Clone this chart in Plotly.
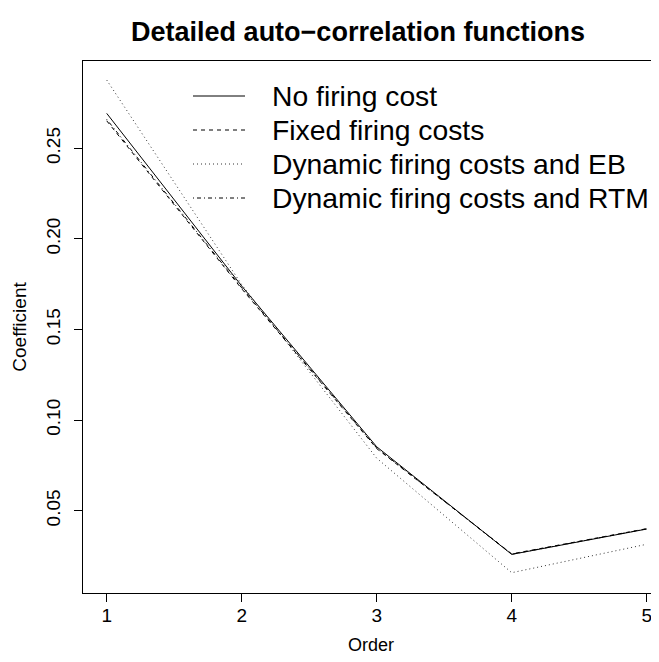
import plotly.graph_objects as go

orders = [1, 2, 3, 4, 5]
no_firing = [0.2693, 0.1740, 0.0853, 0.0259, 0.0399]
fixed_costs = [0.2652, 0.1725, 0.0843, 0.0262, 0.0401]
dyn_eb = [0.2877, 0.1748, 0.0790, 0.0158, 0.0315]
dyn_rtm = [0.2660, 0.1730, 0.0846, 0.0260, 0.0400]

series_names = ["No firing cost", "Fixed firing costs",
                "Dynamic firing costs and EB", "Dynamic firing costs and RTM"]
x_ticks = [1, 2, 3, 4, 5]
y_ticks = [0.05, 0.10, 0.15, 0.20, 0.25]
y_tick_labels = ["0.05", "0.10", "0.15", "0.20", "0.25"]

FONT = "Liberation Sans, Arial, Helvetica, sans-serif"
dashes = ["solid", "4px,4px", "1px,3px", "1px,3px,4px,3px"]
colors = ["black", "black", "#333333", "black"]

# page body has an 8px margin; the figure is sized to fill the rest of the window
OFF = 8
W, H = 659 - OFF, 662 - OFF
ML, MR, MT, MB = 83 - OFF, 0, 61 - OFF, 662 - 593
PW, PH = W - ML - MR, H - MT - MB

fig = go.Figure()
for name, ys, d, c in zip(series_names, [no_firing, fixed_costs, dyn_eb, dyn_rtm], dashes, colors):
    fig.add_trace(go.Scatter(x=orders, y=ys, mode="lines", name=name, showlegend=False,
                             line=dict(color=c, width=1, dash=d)))

# Manual legend (R style): sample line + text, placed in paper coordinates
def px_to_paper_x(px):
    return (px - OFF - ML) / PW

def px_to_paper_y(py):
    return (H - MB - (py - OFF)) / PH

legend_top = 96
legend_step = 34
for i, (name, d, c) in enumerate(zip(series_names, dashes, colors)):
    yc = px_to_paper_y(legend_top + legend_step * i)
    fig.add_shape(type="line", xref="paper", yref="paper",
                  x0=px_to_paper_x(193), x1=px_to_paper_x(245), y0=yc, y1=yc,
                  line=dict(color=c, width=1, dash=d))
    fig.add_annotation(xref="paper", yref="paper", x=px_to_paper_x(270), y=yc,
                       xanchor="left", yanchor="middle", showarrow=False, text=name,
                       font=dict(size=28.3, family=FONT, color="black"))

fig.update_layout(
    width=W, height=H,
    margin=dict(l=ML, r=MR, t=MT, b=MB, autoexpand=False),
    paper_bgcolor="white", plot_bgcolor="white",
    font=dict(family=FONT, color="black"),
    title=dict(text="<b>Detailed auto\u2212correlation functions</b>",
               font=dict(size=27, family=FONT, color="black"),
               x=350 / W, xanchor="center", y=1 - 24 / H, yanchor="middle"),
    showlegend=False,
)
fig.update_xaxes(range=[0.8244, 5.091], tickvals=x_ticks, ticktext=[str(v) for v in x_ticks],
                 ticks="outside", ticklen=8, tickwidth=1, tickcolor="black",
                 showline=True, linecolor="black", linewidth=1, mirror=True,
                 showgrid=False, zeroline=False, automargin=False,
                 ticklabelstandoff=-3,
                 tickfont=dict(size=19, family=FONT, color="black"),
                 title=dict(text="Order", font=dict(size=18, family=FONT, color="black"), standoff=13))
fig.update_yaxes(range=[0.0046, 0.2982], tickvals=y_ticks, ticktext=y_tick_labels,
                 ticks="outside", ticklen=8, tickwidth=1, tickcolor="black",
                 showline=True, linecolor="black", linewidth=1,
                 showgrid=False, zeroline=False, tickangle=-90, automargin=False,
                 ticklabelstandoff=6,
                 tickfont=dict(size=19, family=FONT, color="black"),
                 title=dict(text="Coefficient", font=dict(size=19, family=FONT, color="black"), standoff=11))

fig.write_html("out.html")
